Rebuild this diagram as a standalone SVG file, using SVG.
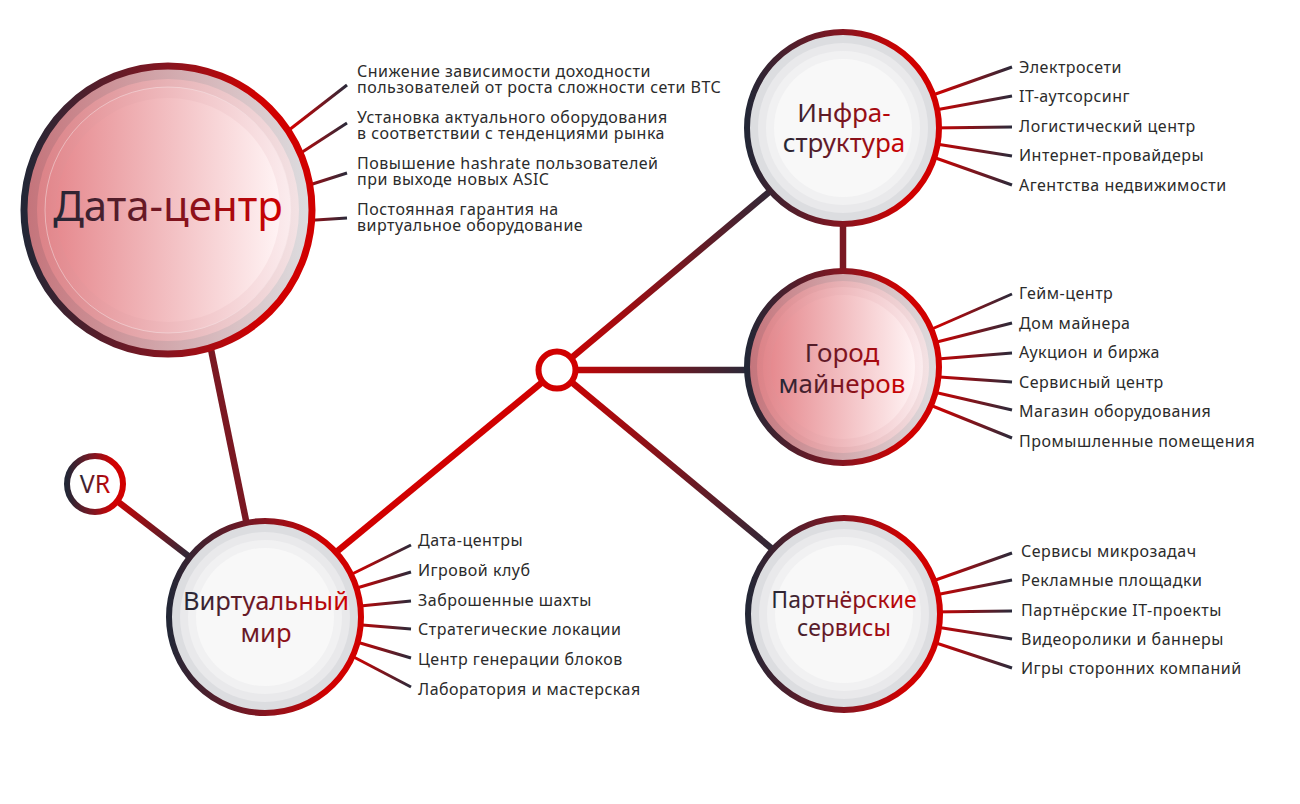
<svg xmlns="http://www.w3.org/2000/svg" width="1300" height="804" viewBox="0 0 1300 804">
<defs>
  <linearGradient id="ring" x1="0" y1="0" x2="1" y2="0">
    <stop offset="0" stop-color="#232736"/>
    <stop offset="0.5" stop-color="#861520"/>
    <stop offset="0.82" stop-color="#d10000"/>
    <stop offset="1" stop-color="#d10000"/>
  </linearGradient>
  <linearGradient id="txt" x1="0" y1="0" x2="1" y2="0">
    <stop offset="0" stop-color="#232736"/>
    <stop offset="0.5" stop-color="#7a1520"/>
    <stop offset="1" stop-color="#d10000"/>
  </linearGradient>
  <linearGradient id="pA" x1="0" y1="0" x2="1" y2="0">
    <stop offset="0" stop-color="#c4737a"/>
    <stop offset="0.75" stop-color="#d9c3c6"/>
    <stop offset="1" stop-color="#dcdde0"/>
  </linearGradient>
  <linearGradient id="pB" x1="0" y1="0" x2="1" y2="0">
    <stop offset="0" stop-color="#dc8287"/>
    <stop offset="1" stop-color="#f3e2e4"/>
  </linearGradient>
  <linearGradient id="pC" x1="0" y1="0" x2="1" y2="0">
    <stop offset="0" stop-color="#e2878c"/>
    <stop offset="1" stop-color="#fbecee"/>
  </linearGradient>
  <linearGradient id="pD" x1="0" y1="0" x2="1" y2="0">
    <stop offset="0" stop-color="#e68a8f"/>
    <stop offset="1" stop-color="#fff3f4"/>
  </linearGradient>
  <linearGradient id="sDC" gradientUnits="userSpaceOnUse" x1="292" y1="0" x2="347" y2="0">
    <stop offset="0" stop-color="#d10000"/><stop offset="1" stop-color="#2a2a3a"/>
  </linearGradient>
  <linearGradient id="sR" gradientUnits="userSpaceOnUse" x1="935" y1="0" x2="1012" y2="0">
    <stop offset="0" stop-color="#d10000"/><stop offset="1" stop-color="#2a2a3a"/>
  </linearGradient>
  <linearGradient id="sV" gradientUnits="userSpaceOnUse" x1="355" y1="0" x2="411" y2="0">
    <stop offset="0" stop-color="#d10000"/><stop offset="1" stop-color="#2a2a3a"/>
  </linearGradient>
  <linearGradient id="cInfra" gradientUnits="userSpaceOnUse" x1="557" y1="370" x2="780" y2="183">
    <stop offset="0" stop-color="#d10000"/><stop offset="1" stop-color="#2a2a3a"/>
  </linearGradient>
  <linearGradient id="cCity" gradientUnits="userSpaceOnUse" x1="557" y1="0" x2="748" y2="0">
    <stop offset="0" stop-color="#d10000"/><stop offset="1" stop-color="#2a2a3a"/>
  </linearGradient>
  <linearGradient id="cPart" gradientUnits="userSpaceOnUse" x1="557" y1="370" x2="780" y2="555">
    <stop offset="0" stop-color="#d10000"/><stop offset="1" stop-color="#2a2a3a"/>
  </linearGradient>
  <linearGradient id="cVR" gradientUnits="userSpaceOnUse" x1="112" y1="498" x2="192" y2="558">
    <stop offset="0" stop-color="#d10000"/><stop offset="1" stop-color="#2a2a3a"/>
  </linearGradient>
</defs>
<style>
  .item { font-family: "Noto Sans", "Open Sans", "Liberation Sans", sans-serif; font-size: 16px; letter-spacing: 0.5px; fill: #2b2b2b; }
  .title { font-family: "Noto Sans", "Open Sans", "Liberation Sans", sans-serif; fill: url(#txt); text-anchor: middle; }
  .spoke { stroke-width: 3; fill: none; }
  .conn { stroke-width: 6.5; fill: none; }
  .g1 { fill: #dcdde0; }
  .g2 { fill: #e9e9eb; }
  .g3 { fill: #f1f1f2; }
  .g4 { fill: #f8f8f8; }
</style>
<rect width="1300" height="804" fill="#ffffff"/>

<g id="connectors">
  <line class="conn" x1="205" y1="320" x2="250" y2="540" stroke="#7a1822" stroke-width="7"/>
  <line class="conn" x1="95" y1="484" x2="200" y2="565" stroke="url(#cVR)"/>
  <line class="conn" x1="300" y1="582" x2="557" y2="370" stroke="#d10000"/>
  <line class="conn" x1="557" y1="370" x2="800" y2="166" stroke="url(#cInfra)"/>
  <line class="conn" x1="557" y1="370" x2="780" y2="370" stroke="url(#cCity)"/>
  <line class="conn" x1="557" y1="370" x2="800" y2="572" stroke="url(#cPart)"/>
  <line class="conn" x1="843" y1="200" x2="843" y2="300" stroke="#7a1822" stroke-width="7"/>
</g>

<g id="node-datacenter">
  <g stroke="url(#sDC)" class="spoke">
    <line x1="280" y1="137" x2="347" y2="85"/>
    <line x1="290" y1="160" x2="347" y2="123"/>
    <line x1="300" y1="188" x2="347" y2="173"/>
    <line x1="300" y1="221" x2="347" y2="218"/>
  </g>
  <circle cx="168" cy="210" r="144" fill="url(#pA)" stroke="url(#ring)" stroke-width="7"/>
  <circle cx="168" cy="210" r="131" fill="url(#pB)"/>
  <circle cx="168" cy="210" r="123" fill="url(#pC)" stroke="#f6e4e6" stroke-width="1" stroke-opacity="0.5"/>
  <circle cx="168" cy="210" r="112" fill="url(#pD)"/>
  <text class="title" x="168" y="221" font-size="42">Дата-центр</text>
  <g class="item">
    <text><tspan x="357" y="77">Снижение зависимости доходности</tspan><tspan x="357" y="93">пользователей от роста сложности сети ВТС</tspan></text>
    <text><tspan x="357" y="123">Установка актуального оборудования</tspan><tspan x="357" y="139">в соответствии с тенденциями рынка</tspan></text>
    <text><tspan x="357" y="169">Повышение hashrate пользователей</tspan><tspan x="357" y="185">при выходе новых ASIC</tspan></text>
    <text><tspan x="357" y="215">Постоянная гарантия на</tspan><tspan x="357" y="231">виртуальное оборудование</tspan></text>
  </g>
</g>

<g id="node-vr">
  <circle cx="95" cy="484" r="28" fill="#ffffff" stroke="url(#ring)" stroke-width="6"/>
  <text class="title" x="95" y="493" font-size="25">VR</text>
</g>

<g id="node-hub">
  <circle cx="557" cy="370" r="18.5" fill="#ffffff" stroke="#d10000" stroke-width="6"/>
</g>

<g id="node-infra">
  <g stroke="url(#sR)" class="spoke">
    <line x1="930" y1="96" x2="1012" y2="67"/>
    <line x1="930" y1="111" x2="1012" y2="96"/>
    <line x1="930" y1="128" x2="1012" y2="127"/>
    <line x1="930" y1="143" x2="1012" y2="156"/>
    <line x1="930" y1="156" x2="1012" y2="185"/>
  </g>
  <circle cx="843" cy="128" r="96" class="g1" stroke="url(#ring)" stroke-width="6"/>
  <circle cx="843" cy="128" r="85" class="g2"/>
  <circle cx="843" cy="128" r="77" class="g3"/>
  <circle cx="843" cy="128" r="69" class="g4"/>
  <text class="title" font-size="26"><tspan x="844" y="122">Инфра-</tspan><tspan x="844" y="152">структура</tspan></text>
  <g class="item">
    <text x="1019" y="73">Электросети</text>
    <text x="1019" y="102">IT-аутсорсинг</text>
    <text x="1019" y="132">Логистический центр</text>
    <text x="1019" y="161">Интернет-провайдеры</text>
    <text x="1019" y="191">Агентства недвижимости</text>
  </g>
</g>

<g id="node-city">
  <g stroke="url(#sR)" class="spoke">
    <line x1="925" y1="332" x2="1012" y2="294"/>
    <line x1="925" y1="345" x2="1012" y2="323"/>
    <line x1="925" y1="360" x2="1012" y2="353"/>
    <line x1="925" y1="376" x2="1012" y2="382"/>
    <line x1="925" y1="390" x2="1012" y2="410"/>
    <line x1="925" y1="403" x2="1012" y2="438"/>
  </g>
  <circle cx="843" cy="367" r="96" fill="url(#pA)" stroke="url(#ring)" stroke-width="6"/>
  <circle cx="843" cy="367" r="86" fill="url(#pB)"/>
  <circle cx="843" cy="367" r="80" fill="url(#pC)"/>
  <circle cx="843" cy="367" r="72" fill="url(#pD)"/>
  <text class="title" font-size="26"><tspan x="842" y="362">Город</tspan><tspan x="842" y="393">майнеров</tspan></text>
  <g class="item">
    <text x="1019" y="299">Гейм-центр</text>
    <text x="1019" y="329">Дом майнера</text>
    <text x="1019" y="358">Аукцион и биржа</text>
    <text x="1019" y="388">Сервисный центр</text>
    <text x="1019" y="417">Магазин оборудования</text>
    <text x="1019" y="447">Промышленные помещения</text>
  </g>
</g>

<g id="node-partner">
  <g stroke="url(#sR)" class="spoke">
    <line x1="930" y1="582" x2="1012" y2="553"/>
    <line x1="930" y1="596" x2="1012" y2="580"/>
    <line x1="930" y1="612" x2="1012" y2="611"/>
    <line x1="930" y1="626" x2="1012" y2="639"/>
    <line x1="930" y1="641" x2="1012" y2="668"/>
  </g>
  <circle cx="844" cy="614" r="96" class="g1" stroke="url(#ring)" stroke-width="6"/>
  <circle cx="844" cy="614" r="85" class="g2"/>
  <circle cx="844" cy="614" r="77" class="g3"/>
  <circle cx="844" cy="614" r="69" class="g4"/>
  <text class="title" font-size="23"><tspan x="844" y="608">Партнёрские</tspan><tspan x="844" y="636">сервисы</tspan></text>
  <g class="item">
    <text x="1021" y="557">Сервисы микрозадач</text>
    <text x="1021" y="586">Рекламные площадки</text>
    <text x="1021" y="616">Партнёрские IT-проекты</text>
    <text x="1021" y="645">Видеоролики и баннеры</text>
    <text x="1021" y="674">Игры сторонних компаний</text>
  </g>
</g>

<g id="node-virtual">
  <g stroke="url(#sV)" class="spoke">
    <line x1="348" y1="576" x2="411" y2="545"/>
    <line x1="350" y1="590" x2="411" y2="572"/>
    <line x1="350" y1="607" x2="411" y2="601"/>
    <line x1="350" y1="624" x2="411" y2="629"/>
    <line x1="350" y1="640" x2="411" y2="658"/>
    <line x1="348" y1="654" x2="411" y2="687"/>
  </g>
  <circle cx="265" cy="617" r="96" class="g1" stroke="url(#ring)" stroke-width="6"/>
  <circle cx="265" cy="617" r="85" class="g2"/>
  <circle cx="265" cy="617" r="77" class="g3"/>
  <circle cx="265" cy="617" r="69" class="g4"/>
  <text class="title" font-size="25.5"><tspan x="266" y="610">Виртуальный</tspan><tspan x="266" y="642">мир</tspan></text>
  <g class="item">
    <text x="418" y="546">Дата-центры</text>
    <text x="418" y="576">Игровой клуб</text>
    <text x="418" y="606">Заброшенные шахты</text>
    <text x="418" y="635">Стратегические локации</text>
    <text x="418" y="665">Центр генерации блоков</text>
    <text x="418" y="695">Лаборатория и мастерская</text>
  </g>
</g>
</svg>
